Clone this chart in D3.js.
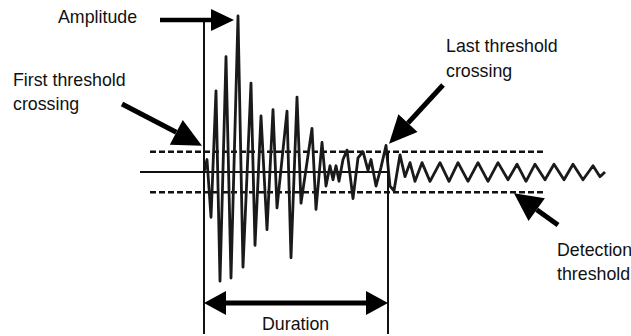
<!DOCTYPE html>
<html lang="en">

<head>
    <meta charset="UTF-8">
    <script src="https://d3js.org/d3.v7.min.js"></script>
    <title>Acoustic emission hit</title>
    <style>
        body { margin: 0; background: #fff; }
        text { font-family: 'Liberation Sans', Arial, sans-serif; font-size: 17.8px; fill: #111; }
    </style>
</head>

<body>

    <svg width='631' height='336'></svg>

    <script>
        // waveform samples (time in us, amplitude in mV)
        let times = [0, 3, 7, 12, 16, 22, 27, 34, 39, 47, 51, 57, 63, 69, 73, 83, 87, 93, 97, 108,
            112, 118, 122, 126, 129, 132, 135, 139, 143, 149, 154, 159, 164, 167, 172, 177, 182, 186, 190, 196,
            201, 206, 211, 218, 226, 236, 245, 254, 264, 274, 284, 294, 304, 313, 322, 331, 341, 350, 360, 369,
            379, 389, 396, 401];
        let values = [0, 8, -29, 52, -70, 74, -68, 100, -61, 57, -47, 36, -37, 40, -23, 39, -55, 48, -20, 28,
            -24, 19, -9, 4, -5, 4, -6, 8, 14, -17, 9, 13, 1, 8, -9, 3, 17, -9, -12, 11,
            -3, 6, -6, 6, -6, 6, -6, 6, -6, 6, -6, 6, -5, 5, -6, 5, -5, 5, -5, 5,
            -5, 4, -3, 0];
        let threshold = 13;
        let firstCrossing = 0;
        let lastCrossing = 184;
        let labels = ['Amplitude', 'First threshold', 'crossing', 'Last threshold', 'crossing',
            'Detection', 'threshold', 'Duration'];

        let data = times.map((t, i) => ({ t: t, v: values[i] }));

        let svg = d3.select('svg');
        let xScale = d3.scaleLinear().domain([-64, 404]).range([140, 608]);
        let yScale = d3.scaleLinear().domain([-100, 100]).range([328, 16]);

        // helper for the thick black arrows
        function arrow(x1, y1, x2, y2, len, half, sw) {
            let a = Math.atan2(y2 - y1, x2 - x1);
            let bx = x2 - len * Math.cos(a), by = y2 - len * Math.sin(a);
            svg.append('line')
                .attr('x1', x1).attr('y1', y1).attr('x2', bx).attr('y2', by)
                .attr('stroke', '#000').attr('stroke-width', sw);
            let px = -Math.sin(a) * half, py = Math.cos(a) * half;
            svg.append('polygon')
                .attr('points', [[x2, y2], [bx + px, by + py], [bx - px, by - py]].map(p => p.join(',')).join(' '))
                .attr('fill', '#000');
        }

        // zero line
        svg.append('line')
            .attr('x1', 140).attr('x2', xScale(lastCrossing + 2))
            .attr('y1', yScale(0)).attr('y2', yScale(0))
            .attr('stroke', '#111').attr('stroke-width', 2);

        // detection threshold
        svg.selectAll('.thr')
            .data([threshold, -threshold])
            .enter()
            .append('line')
            .attr('class', 'thr')
            .attr('x1', 150).attr('x2', 545)
            .attr('y1', d => yScale(d)).attr('y2', d => yScale(d))
            .attr('stroke', '#111').attr('stroke-width', 2.5)
            .attr('stroke-dasharray', '6,3');

        // waveform
        let line = d3.line().x(d => xScale(d.t)).y(d => yScale(d.v));
        svg.append('path')
            .datum(data)
            .attr('d', line)
            .attr('fill', 'none')
            .attr('stroke', '#1a1a1a')
            .attr('stroke-width', 2.8)
            .attr('stroke-linejoin', 'round');

        // crossing markers
        let peakY = yScale(d3.max(values)) + 4;
        svg.append('line')
            .attr('x1', xScale(firstCrossing)).attr('x2', xScale(firstCrossing))
            .attr('y1', peakY).attr('y2', 334)
            .attr('stroke', '#111').attr('stroke-width', 2);
        svg.append('line')
            .attr('x1', xScale(lastCrossing)).attr('x2', xScale(lastCrossing))
            .attr('y1', yScale(threshold)).attr('y2', 334)
            .attr('stroke', '#111').attr('stroke-width', 2);

        // arrows
        let peakX = xScale(times[values.indexOf(d3.max(values))]);
        arrow(160, peakY, peakX - 4, peakY, 23, 11, 4.5);
        arrow(122, 104, xScale(firstCrossing) - 2, yScale(threshold) - 6, 29, 14, 5);
        arrow(443, 85, xScale(lastCrossing) + 1, yScale(threshold) - 8, 28, 13, 5);
        arrow(558, 225, 514, yScale(-threshold) + 1, 28, 14, 5);
        let dy = 303;
        arrow((xScale(firstCrossing) + xScale(lastCrossing)) / 2, dy, xScale(firstCrossing), dy, 22, 12, 5);
        arrow((xScale(firstCrossing) + xScale(lastCrossing)) / 2, dy, xScale(lastCrossing), dy, 22, 12, 5);

        // labels
        let pos = [[58, 23], [13, 86], [13, 110], [446, 52], [446, 77], [557, 256], [557, 280], [262, 330]];
        svg.selectAll('.lbl')
            .data(labels)
            .enter()
            .append('text')
            .attr('class', 'lbl')
            .attr('x', (d, i) => pos[i][0])
            .attr('y', (d, i) => pos[i][1])
            .text(d => d);
    </script>

</body>

</html>
